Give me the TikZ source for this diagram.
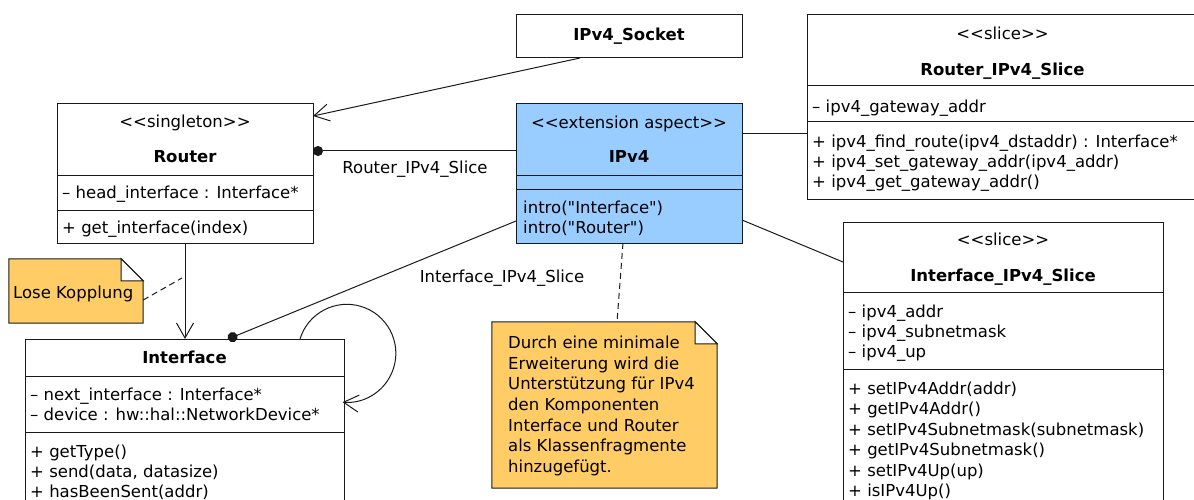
\documentclass[tikz,border=0pt]{standalone}
\usepackage{fontspec}
\setmainfont{DejaVu Sans}[Ligatures=TeXReset]
\usetikzlibrary{arrows.meta}
\definecolor{aspectblue}{HTML}{99CCFF}
\definecolor{noteorange}{HTML}{FFCC66}
\definecolor{linec}{HTML}{1A1A1A}
\newcommand\fs{\fontsize{16.5}{20.5}\selectfont}
\begin{document}
\begin{tikzpicture}[x=1pt,y=-1pt,
  umlbox/.style={draw=linec, line width=1pt, fill=white, inner sep=0pt, outer sep=0pt},
  sepline/.style={draw=linec, line width=1pt},
  txt/.style={inner sep=0pt, anchor=base west, font=\fs},
  ctxt/.style={inner sep=0pt, anchor=base, font=\fs},
  btxt/.style={inner sep=0pt, anchor=base, font=\fs\bfseries},
  notebody/.style={draw=linec, line width=1pt, fill=noteorange},
  notefold/.style={draw=linec, line width=1pt, fill=white},
  conn/.style={draw=linec, line width=1pt},
  openarrow/.style={-{Straight Barb[length=15pt,width=17pt,line width=1pt]}},
  dotend/.style={{Circle[length=10pt]}-},
  dashline/.style={draw=linec, line width=1pt, dash pattern=on 6pt off 4pt}
]
\useasboundingbox (0,0) rectangle (1194,500);
\clip (0,0) rectangle (1194,500);

% ---------- class boxes ----------
\node[umlbox, minimum width=256pt, minimum height=139pt] (router) at (185,173.5) {};
\node[umlbox, fill=aspectblue, minimum width=226pt, minimum height=139pt] (ipv4) at (629,173.5) {};
\node[umlbox, minimum width=226pt, minimum height=43pt] (socket) at (629,36.5) {};
\node[umlbox, minimum width=391pt, minimum height=184pt] (rslice) at (1002.5,107) {};
\node[umlbox, minimum width=319pt, minimum height=181pt] (iface) at (184.5,429.5) {};
\node[umlbox, minimum width=320pt, minimum height=298pt] (islice) at (1003,371) {};

% ---------- notes ----------
\node[inner sep=0pt, minimum width=134pt, minimum height=64pt] (note1) at (76,291) {};
\draw[notebody] (note1.north west) -- ([xshift=-22pt]note1.north east) -- ([yshift=-22pt]note1.north east) -- (note1.south east) -- (note1.south west) -- cycle;
\draw[notefold] ([xshift=-22pt]note1.north east) -- ([xshift=-22pt,yshift=-22pt]note1.north east) -- ([yshift=-22pt]note1.north east) -- cycle;
\node[txt] (note1text) at (13,298.5) {Lose Kopplung};

\node[inner sep=0pt, minimum width=225pt, minimum height=166pt] (note2) at (604.5,405) {};
\draw[notebody] (note2.north west) -- ([xshift=-22pt]note2.north east) -- ([yshift=-22pt]note2.north east) -- (note2.south east) -- (note2.south west) -- cycle;
\draw[notefold] ([xshift=-22pt]note2.north east) -- ([xshift=-22pt,yshift=-22pt]note2.north east) -- ([yshift=-22pt]note2.north east) -- cycle;
\foreach \t [count=\i] in {Durch eine minimale, Erweiterung wird die, Unterstützung für IPv4, den Komponenten, Interface und Router, als Klassenfragmente, hinzugefügt.}
  \node[txt] (note2l\i) at (508,{348.5+20.65*(\i-1)}) {\t};

% ---------- Router ----------
\node[ctxt] (routerst) at (185,127.5) {<<singleton>>};
\node[btxt] (routername) at (185,162.5) {Router};
\draw[sepline] ([yshift=-71pt]router.north west) -- ([yshift=-71pt]router.north east);
\node[txt] (routera1) at (62,198.5) {– head\_interface : Interface*};
\draw[sepline] ([yshift=-106pt]router.north west) -- ([yshift=-106pt]router.north east);
\node[txt] (routerm1) at (62,233.5) {+ get\_interface(index)};

% ---------- IPv4 aspect ----------
\node[ctxt] (ipv4st) at (629,128.5) {<<extension aspect>>};
\node[btxt] (ipv4name) at (629,162.5) {IPv4};
\draw[sepline] ([yshift=-71pt]ipv4.north west) -- ([yshift=-71pt]ipv4.north east);
\draw[sepline] ([yshift=-85pt]ipv4.north west) -- ([yshift=-85pt]ipv4.north east);
\node[txt] (ipv4m1) at (523,213.5) {intro("Interface")};
\node[txt] (ipv4m2) at (523,233.5) {intro("Router")};

% ---------- IPv4_Socket ----------
\node[btxt] (socketname) at (629,41) {IPv4\_Socket};

% ---------- Router_IPv4_Slice ----------
\node[ctxt] (rslicest) at (1002.5,39.5) {<<slice>>};
\node[btxt] (rslicename) at (1002.5,75.5) {Router\_IPv4\_Slice};
\draw[sepline] ([yshift=-71pt]rslice.north west) -- ([yshift=-71pt]rslice.north east);
\node[txt] (rslicea1) at (812,112.5) {– ipv4\_gateway\_addr};
\draw[sepline] ([yshift=-107pt]rslice.north west) -- ([yshift=-107pt]rslice.north east);
\node[txt] (rslicem1) at (812,147.5) {+ ipv4\_find\_route(ipv4\_dstaddr) : Interface*};
\node[txt] (rslicem2) at (812,167.5) {+ ipv4\_set\_gateway\_addr(ipv4\_addr)};
\node[txt] (rslicem3) at (812,187.5) {+ ipv4\_get\_gateway\_addr()};

% ---------- Interface ----------
\node[btxt] (ifacename) at (184.5,363.5) {Interface};
\draw[sepline] ([yshift=-37pt]iface.north west) -- ([yshift=-37pt]iface.north east);
\node[txt] (ifacea1) at (30,400.5) {– next\_interface : Interface*};
\node[txt] (ifacea2) at (30,420.5) {– device : hw::hal::NetworkDevice*};
\draw[sepline] ([yshift=-93pt]iface.north west) -- ([yshift=-93pt]iface.north east);
\node[txt] (ifacem1) at (30,457.5) {+ getType()};
\node[txt] (ifacem2) at (30,477.5) {+ send(data, datasize)};
\node[txt] (ifacem3) at (30,497.5) {+ hasBeenSent(addr)};

% ---------- Interface_IPv4_Slice ----------
\node[ctxt] (islicest) at (1003,245.5) {<<slice>>};
\node[btxt] (islicename) at (1003,281.5) {Interface\_IPv4\_Slice};
\draw[sepline] ([yshift=-70pt]islice.north west) -- ([yshift=-70pt]islice.north east);
\node[txt] (islicea1) at (848,317.5) {– ipv4\_addr};
\node[txt] (islicea2) at (848,337.5) {– ipv4\_subnetmask};
\node[txt] (islicea3) at (848,357.5) {– ipv4\_up};
\draw[sepline] ([yshift=-147pt]islice.north west) -- ([yshift=-147pt]islice.north east);
\node[txt] (islicem1) at (848,394.5) {+ setIPv4Addr(addr)};
\node[txt] (islicem2) at (848,414.9) {+ getIPv4Addr()};
\node[txt] (islicem3) at (848,435.3) {+ setIPv4Subnetmask(subnetmask)};
\node[txt] (islicem4) at (848,455.7) {+ getIPv4Subnetmask()};
\node[txt] (islicem5) at (848,476.1) {+ setIPv4Up(up)};
\node[txt] (islicem6) at (848,496.5) {+ isIPv4Up()};

% ---------- connectors ----------
\draw[conn, openarrow] ([xshift=-49pt]socket.south) -- ([yshift=-12pt]router.north east);
\draw[conn, dotend] ([yshift=22.5pt]router.east) -- ([yshift=22.5pt]ipv4.west);
\node[ctxt] (lblrouter) at (415,173.5) {Router\_IPv4\_Slice};
\draw[conn] ([yshift=39.5pt]ipv4.east) -- ([yshift=39.5pt]ipv4.east -| rslice.west);
\draw[conn, dotend] ([xshift=43.5pt]iface.north) -- ([yshift=-47.5pt]ipv4.west);
\node[ctxt] (lbliface) at (502,282.5) {Interface\_IPv4\_Slice};
\draw[conn] ([yshift=-46.5pt]ipv4.east) -- ([yshift=109pt]islice.west);
\draw[dashline] ([xshift=-6pt]ipv4.south) -- ([xshift=12.5pt]note2.north);
\draw[conn, openarrow] (router.south) -- (router.south |- iface.north);
\coordinate (kopplungend) at (182,278);
\draw[dashline] ([yshift=-9pt]note1.east) -- (kopplungend);
\draw[conn, openarrow] ([xshift=115.5pt]iface.north) arc[start angle=163, end angle=-95, radius=49pt];
\end{tikzpicture}
\end{document}
